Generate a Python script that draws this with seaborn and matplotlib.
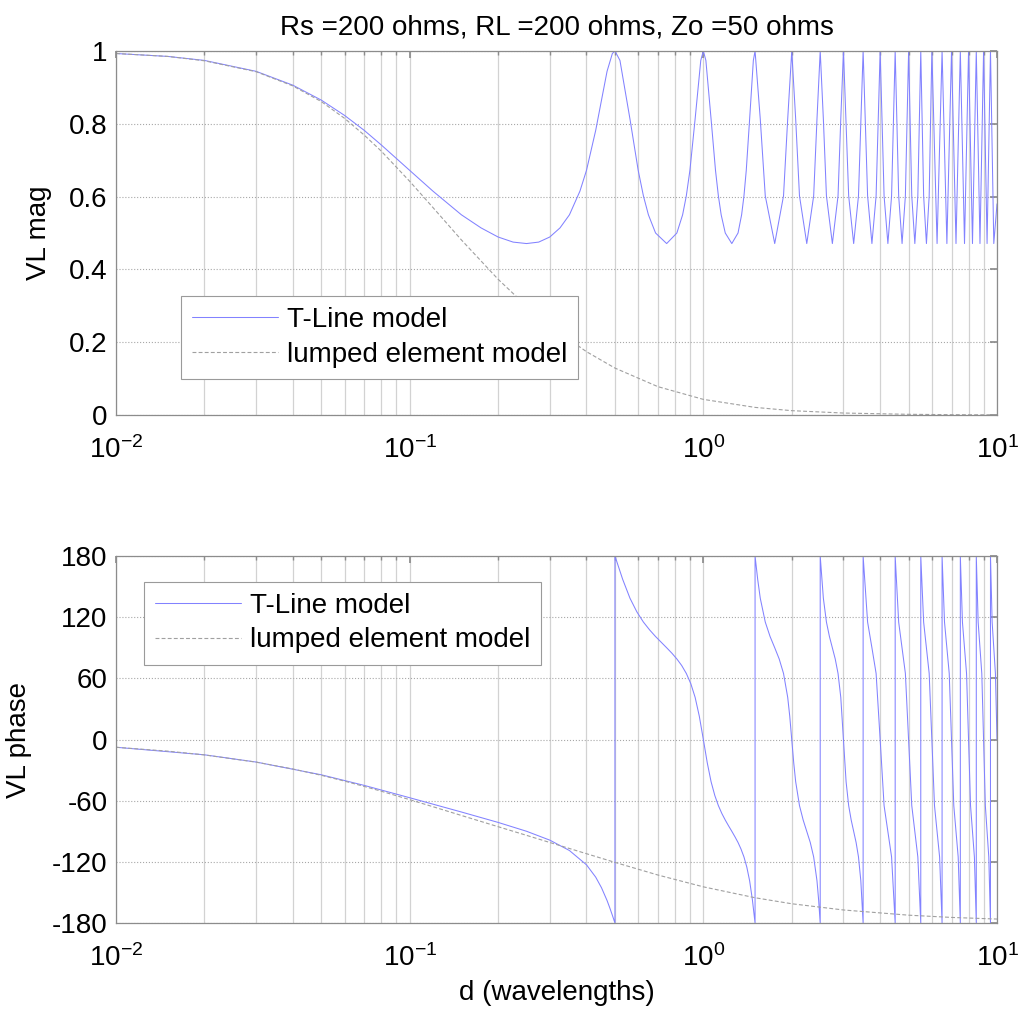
import matplotlib
matplotlib.use("Agg")
import pandas as pd
import matplotlib.pyplot as plt
import seaborn as sns
from matplotlib.ticker import LogLocator, NullFormatter

sns.set_theme(style="white")
plt.rcParams["font.family"] = ["Liberation Sans", "DejaVu Sans"]
plt.rcParams["mathtext.fontset"] = "custom"
plt.rcParams["mathtext.rm"] = "Liberation Sans"
plt.rcParams["mathtext.it"] = "Liberation Sans:italic"
plt.rcParams["mathtext.bf"] = "Liberation Sans:bold"
plt.rcParams["lines.dashed_pattern"] = [3.5, 2.0]
plt.rcParams["text.color"] = "black"
plt.rcParams["axes.labelcolor"] = "black"

# --- data (d in wavelengths) ---
# lumped element model, magnitude and phase on the same d points
d_lumped = [0.01, 0.015, 0.02, 0.03, 0.04, 0.05, 0.06, 0.07, 0.08, 0.1, 0.12, 0.15,
            0.2, 0.25, 0.3, 0.4, 0.5, 0.7, 1.0, 1.5, 2.0, 3.0, 5.0, 7.0, 10.0]
mag_lumped = [0.993, 0.985, 0.973, 0.943, 0.904, 0.861, 0.815, 0.769, 0.725, 0.642, 0.570, 0.481,
              0.373, 0.299, 0.245, 0.174, 0.129, 0.078, 0.043, 0.021, 0.012, 0.0055, 0.002, 0.001, 0.0005]
ph_lumped = [-7.6, -11.4, -15.1, -22.2, -28.9, -35.1, -40.8, -46.0, -50.7, -59.0, -65.9, -74.5,
             -85.5, -94.0, -101.0, -112.0, -120.5, -132.9, -144.5, -155.2, -161.1, -167.2, -172.3, -174.5, -176.1]

# T-line model magnitude
d_mag_near = [0.01, 0.015, 0.02, 0.03, 0.04, 0.05, 0.06, 0.07, 0.08, 0.1, 0.12, 0.15, 0.175, 0.2,
              0.225, 0.25, 0.275, 0.3, 0.325, 0.35, 0.38, 0.4, 0.43, 0.45, 0.47, 0.49, 0.5]
mag_near = [0.993, 0.985, 0.974, 0.944, 0.906, 0.865, 0.823, 0.782, 0.742, 0.672, 0.615, 0.550, 0.514, 0.489,
            0.475, 0.471, 0.475, 0.489, 0.514, 0.550, 0.615, 0.672, 0.782, 0.865, 0.944, 0.993, 1.0]
d_mag_mid = [0.52, 0.5625, 0.6, 0.625, 0.65, 0.6875, 0.75, 0.8125, 0.85, 0.875, 0.9, 0.9375, 0.98, 1.0,
             1.02, 1.0625, 1.1, 1.125, 1.15, 1.1875, 1.25, 1.3125, 1.35, 1.375, 1.4, 1.4375, 1.48, 1.5]
mag_mid = [0.974, 0.813, 0.672, 0.602, 0.550, 0.500, 0.471, 0.500, 0.550, 0.602, 0.672, 0.813, 0.974, 1.0,
           0.974, 0.813, 0.672, 0.602, 0.550, 0.500, 0.471, 0.500, 0.550, 0.602, 0.672, 0.813, 0.974, 1.0]
d_mag_far = [1.5625, 1.625, 1.75, 1.875, 1.9375, 2.0, 2.0625, 2.125, 2.25, 2.375, 2.4375, 2.5,
             2.5625, 2.625, 2.75, 2.875, 2.9375, 3.0,
             3.125, 3.25, 3.375, 3.5, 3.625, 3.75, 3.875, 4.0, 4.125, 4.25, 4.375, 4.5,
             4.625, 4.75, 4.875, 5.0, 5.125, 5.25, 5.375, 5.5, 5.625, 5.75, 5.875, 6.0,
             6.25, 6.5, 6.75, 7.0, 7.25, 7.5, 7.75, 8.0, 8.25, 8.5, 8.75, 9.0, 9.25, 9.5, 9.75, 10.0]
mag_far = [0.813, 0.602, 0.471, 0.602, 0.813, 1.0, 0.813, 0.602, 0.471, 0.602, 0.813, 1.0,
           0.813, 0.602, 0.471, 0.602, 0.813, 1.0,
           0.602, 0.471, 0.602, 1.0, 0.602, 0.471, 0.602, 1.0, 0.602, 0.471, 0.602, 1.0,
           0.602, 0.471, 0.602, 1.0, 0.602, 0.471, 0.602, 1.0, 0.602, 0.471, 0.602, 1.0,
           0.471, 1.0, 0.471, 1.0, 0.471, 1.0, 0.471, 1.0, 0.471, 1.0, 0.471, 1.0, 0.471, 1.0, 0.471, 0.58]

# T-line model phase (wraps at +/-180)
d_ph_near = [0.01, 0.02, 0.03, 0.05, 0.07, 0.1, 0.12, 0.15, 0.2, 0.25, 0.3, 0.35, 0.4, 0.43, 0.45,
             0.47, 0.48, 0.49, 0.5]
ph_near = [-7.6, -15.0, -22.1, -34.6, -45.0, -57.1, -63.4, -71.1, -81.3, -90.0, -98.7, -108.9, -122.9,
           -135.0, -145.4, -157.9, -165.0, -172.4, -180.0]
d_ph_1 = [0.5, 0.53125, 0.5625, 0.59375, 0.625, 0.65625, 0.6875, 0.71875, 0.75, 0.78125, 0.8125,
          0.84375, 0.875, 0.90625, 0.9375, 0.96875, 1.0, 1.03125, 1.0625, 1.09375, 1.125, 1.15625,
          1.1875, 1.21875, 1.25, 1.28125, 1.3125, 1.34375, 1.375, 1.40625, 1.4375, 1.46875, 1.5]
ph_1 = [180.0, 157.1, 138.6, 125.2, 115.2, 107.5, 101.0, 95.4, 90.0, 84.7, 79.0,
        72.6, 64.8, 54.8, 41.4, 22.9, 0.0, -22.9, -41.4, -54.8, -64.8, -72.6,
        -79.0, -84.7, -90.0, -95.4, -101.0, -107.5, -115.2, -125.2, -138.6, -157.1, -180.0]
d_ph_2 = [1.5, 1.53125, 1.5625, 1.625, 1.6875, 1.75, 1.8125, 1.875, 1.9375, 1.96875, 2.0,
          2.03125, 2.0625, 2.125, 2.1875, 2.25, 2.3125, 2.375, 2.4375, 2.46875, 2.5,
          2.5, 2.5625, 2.625, 2.6875, 2.75, 2.8125, 2.875, 2.9375, 3.0,
          3.0625, 3.125, 3.1875, 3.25, 3.3125, 3.375, 3.4375, 3.5]
ph_2 = [180.0, 157.1, 138.6, 115.2, 101.0, 90.0, 79.0, 64.8, 41.4, 22.9, 0.0,
        -22.9, -41.4, -64.8, -79.0, -90.0, -101.0, -115.2, -138.6, -157.1, -180.0,
        180.0, 138.6, 115.2, 101.0, 90.0, 79.0, 64.8, 41.4, 0.0,
        -41.4, -64.8, -79.0, -90.0, -101.0, -115.2, -138.6, -180.0]
d_ph_far = [3.5, 3.625, 3.75, 3.875, 4.0, 4.125, 4.25, 4.375, 4.5,
            4.5, 4.625, 4.75, 4.875, 5.0, 5.125, 5.25, 5.375, 5.5,
            5.5, 5.625, 5.75, 5.875, 6.0, 6.125, 6.25, 6.375, 6.5,
            6.5, 6.625, 6.75, 6.875, 7.0, 7.125, 7.25, 7.375, 7.5,
            7.5, 7.625, 7.75, 7.875, 8.0, 8.125, 8.25, 8.375, 8.5,
            8.5, 8.625, 8.75, 8.875, 9.0, 9.125, 9.25, 9.375, 9.5,
            9.5, 9.625, 9.75, 9.875, 10.0]
ph_far = [180.0, 115.2, 90.0, 64.8, 0.0, -64.8, -90.0, -115.2, -180.0,
          180.0, 115.2, 90.0, 64.8, 0.0, -64.8, -90.0, -115.2, -180.0,
          180.0, 115.2, 90.0, 64.8, 0.0, -64.8, -90.0, -115.2, -180.0,
          180.0, 115.2, 90.0, 64.8, 0.0, -64.8, -90.0, -115.2, -180.0,
          180.0, 115.2, 90.0, 64.8, 0.0, -64.8, -90.0, -115.2, -180.0,
          180.0, 115.2, 90.0, 64.8, 0.0, -64.8, -90.0, -115.2, -180.0,
          180.0, 115.2, 90.0, 64.8, 0.0]

mag_ticks = [0, 0.2, 0.4, 0.6, 0.8, 1]
mag_ticklabels = ["0", "0.2", "0.4", "0.6", "0.8", "1"]
ph_ticks = [-180, -120, -60, 0, 60, 120, 180]
ph_ticklabels = ["-180", "-120", "-60", "0", "60", "120", "180"]
x_ticks = [0.01, 0.1, 1, 10]
x_ticklabels = [r"$10^{-2}$", r"$10^{-1}$", r"$10^{0}$", r"$10^{1}$"]

df_lumped = pd.DataFrame({"d": d_lumped, "mag": mag_lumped, "phase": ph_lumped})
df_mag = pd.DataFrame({"d": d_mag_near + d_mag_mid + d_mag_far,
                       "mag": mag_near + mag_mid + mag_far})
df_ph = pd.DataFrame({"d": d_ph_near + d_ph_1 + d_ph_2 + d_ph_far,
                      "phase": ph_near + ph_1 + ph_2 + ph_far})

BLUE = "#8282ff"
GRAY = "#a0a0a0"
EDGE = "#8c8c8c"
FS = 20

fig = plt.figure(figsize=(10.23, 10.17), dpi=100)
fig.patch.set_facecolor("white")
ax1 = fig.add_axes([0.1134, 0.5919, 0.8612, 0.3580])
ax2 = fig.add_axes([0.1134, 0.0924, 0.8612, 0.3609])


def style_axes(ax):
    ax.set_xscale("log")
    ax.set_xlim(0.01, 10)
    ax.set_xticks(x_ticks)
    ax.set_xticklabels(x_ticklabels)
    ax.xaxis.set_minor_locator(LogLocator(base=10, subs=[2, 3, 4, 5, 6, 7, 8, 9]))
    ax.xaxis.set_minor_formatter(NullFormatter())
    ax.grid(True, which="both", axis="x", color="#d2d2d2", lw=0.9, ls="-")
    ax.grid(True, which="major", axis="y", color="#a8a8a8", lw=0.8, ls=":")
    ax.set_axisbelow(True)
    for s in ax.spines.values():
        s.set_color(EDGE)
        s.set_linewidth(0.9)
    ax.tick_params(axis="both", which="both", direction="in", top=True, right=True,
                   colors=EDGE, labelcolor="black", labelsize=FS)
    ax.tick_params(axis="both", which="major", length=5)
    ax.tick_params(axis="x", which="minor", length=3)
    ax.tick_params(axis="x", which="major", pad=15)
    ax.tick_params(axis="y", which="major", pad=6)


# --- magnitude ---
sns.lineplot(data=df_mag, x="d", y="mag", ax=ax1, color=BLUE, lw=0.75,
             sort=False, estimator=None, label="T-Line model")
sns.lineplot(data=df_lumped, x="d", y="mag", ax=ax1, color=GRAY, lw=0.8, linestyle="--",
             sort=False, estimator=None, label="lumped element model")
style_axes(ax1)
ax1.set_ylim(0, 1)
ax1.set_yticks(mag_ticks)
ax1.set_yticklabels(mag_ticklabels)
ax1.set_xlabel("")
ax1.set_ylabel("VL mag", fontsize=FS)
ax1.yaxis.set_label_coords(-0.0726, 0.5)
ax1.set_title("Rs =200 ohms, RL =200 ohms, Zo =50 ohms", fontsize=FS, pad=12)

leg_kw = dict(fontsize=FS, frameon=True, fancybox=False, framealpha=1.0, edgecolor="#9a9a9a",
              borderaxespad=0, handlelength=3.1, handletextpad=0.3, labelspacing=0.3,
              borderpad=0.4)
leg1 = ax1.legend(loc="lower left", bbox_to_anchor=(0.074, 0.10), **leg_kw)
leg1.get_frame().set_linewidth(0.8)

# --- phase ---
sns.lineplot(data=df_ph, x="d", y="phase", ax=ax2, color=BLUE, lw=0.75,
             sort=False, estimator=None, label="T-Line model")
sns.lineplot(data=df_lumped, x="d", y="phase", ax=ax2, color=GRAY, lw=0.8, linestyle="--",
             sort=False, estimator=None, label="lumped element model")
style_axes(ax2)
ax2.set_ylim(-180, 180)
ax2.set_yticks(ph_ticks)
ax2.set_yticklabels(ph_ticklabels)
ax2.set_ylabel("VL phase", fontsize=FS)
ax2.yaxis.set_label_coords(-0.095, 0.5)
ax2.set_xlabel("d (wavelengths)", fontsize=FS)
ax2.xaxis.set_label_coords(0.5, -0.155)
leg2 = ax2.legend(loc="upper left", bbox_to_anchor=(0.032, 0.929), **leg_kw)
leg2.get_frame().set_linewidth(0.8)

fig.savefig("out.png", dpi=100, facecolor="white")
